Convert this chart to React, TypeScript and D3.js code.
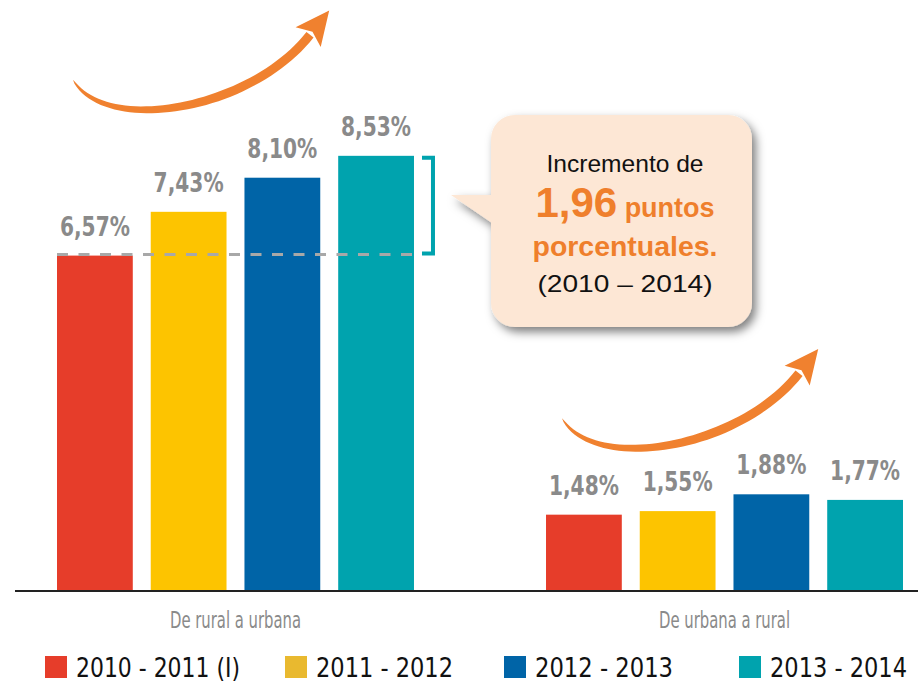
import React, { useEffect, useRef } from 'react'
import * as d3 from 'd3'

const categories = ['De rural a urbana', 'De urbana a rural']
const seriesLabels = ['2010 - 2011 (I)', '2011 - 2012', '2012 - 2013', '2013 - 2014']
const ruralUrbana = [6.57, 7.43, 8.1, 8.53]
const urbanaRural = [1.48, 1.55, 1.88, 1.77]
const barColors = ['#e63d2a', '#fdc400', '#0064a7', '#00a3ae']
const legendColors = ['#e63d2a', '#e9b92f', '#0064a7', '#00a3ae']
const legendX = [45, 285, 504, 739]
const legendWidths = [164, 137, 138, 137]

const fmt = (v: number) => v.toFixed(2).replace('.', ',') + '%'

// tapered curved arrow, points local to a group origin
function arrowShape(p0: number[], c1: number[], c2: number[], p3: number[], maxW: number) {
	const upper: [number, number][] = []
	const lower: [number, number][] = []
	const n = 48
	for (let i = 0; i <= n; i++) {
		const t = i / n
		const a = (1 - t) * (1 - t) * (1 - t), b = 3 * (1 - t) * (1 - t) * t, c = 3 * (1 - t) * t * t, d = t * t * t
		const x = a * p0[0] + b * c1[0] + c * c2[0] + d * p3[0]
		const y = a * p0[1] + b * c1[1] + c * c2[1] + d * p3[1]
		const dx = 3 * (1 - t) * (1 - t) * (c1[0] - p0[0]) + 6 * (1 - t) * t * (c2[0] - c1[0]) + 3 * t * t * (p3[0] - c2[0])
		const dy = 3 * (1 - t) * (1 - t) * (c1[1] - p0[1]) + 6 * (1 - t) * t * (c2[1] - c1[1]) + 3 * t * t * (p3[1] - c2[1])
		const len = Math.hypot(dx, dy) || 1
		const nx = -dy / len, ny = dx / len
		const w = (maxW * Math.min(1, Math.sqrt(t) * 1.25)) / 2
		upper.push([x + nx * w, y + ny * w])
		lower.push([x - nx * w, y - ny * w])
	}
	const shaft = d3.line()(upper.concat(lower.reverse())) + 'Z'
	const ex = p3[0] - c2[0], ey = p3[1] - c2[1]
	const el = Math.hypot(ex, ey)
	const ux = ex / el, uy = ey / el
	const px = -uy, py = ux
	const tip = [p3[0] + ux * 31, p3[1] + uy * 31]
	const b1 = [p3[0] + px * 16 - ux * 3, p3[1] + py * 16 - uy * 3]
	const b2 = [p3[0] - px * 16 - ux * 3, p3[1] - py * 16 - uy * 3]
	const head = `M${tip[0]},${tip[1]}L${b1[0]},${b1[1]}L${p3[0] + ux * 4},${p3[1] + uy * 4}L${b2[0]},${b2[1]}Z`
	return shaft + head
}

const App = () => {
	const ref = useRef<SVGSVGElement>(null)
	const width = 918
	const height = 682

	useEffect(() => {
		document.body.style.margin = '0'
		const svg = d3.select(ref.current)
		svg.selectAll('*').remove()

		const defs = svg.append('defs')
		const filter = defs.append('filter').attr('id', 'shadow').attr('x', '-20%').attr('y', '-20%').attr('width', '150%').attr('height', '150%')
		filter.append('feDropShadow').attr('dx', 4).attr('dy', 5).attr('stdDeviation', 5).attr('flood-color', '#000').attr('flood-opacity', 0.5)

		const y = d3.scaleLinear().domain([0, 10]).range([590, 81])
		const x0 = d3.scaleBand().domain(categories).range([57, 903]).paddingInner(0.27)
		const x1 = d3.scaleBand().domain(seriesLabels).range([0, x0.bandwidth()]).paddingInner(0.1915)

		const groups = [ruralUrbana, urbanaRural]

		// arrows
		groups.forEach((vals, gi) => {
			const gx = x0(categories[gi])!
			const gy = y(d3.max(vals)!)
			svg.append('path')
				.attr('transform', `translate(${gx},${gy})`)
				.attr('d', arrowShape([16, -76], [48, -21], [193, -45], [253, -121], 9))
				.attr('fill', '#f0812f')
		})

		// bars
		groups.forEach((vals, gi) => {
			const g = svg.append('g').attr('transform', `translate(${x0(categories[gi])},0)`)
			g.selectAll('rect').data(vals).enter().append('rect')
				.attr('x', (d, i) => x1(seriesLabels[i])!)
				.attr('y', d => y(d))
				.attr('width', x1.bandwidth())
				.attr('height', d => y(0) - y(d))
				.attr('fill', (d, i) => barColors[i])
			g.selectAll('text').data(vals).enter().append('text')
				.attr('x', (d, i) => x1(seriesLabels[i])! + x1.bandwidth() / 2)
				.attr('y', d => y(d) - 20)
				.attr('text-anchor', 'middle')
				.attr('font-family', 'DejaVu Sans Condensed, DejaVu Sans')
				.attr('font-weight', 'bold')
				.attr('font-size', 27)
				.attr('fill', '#8a8a8a')
				.attr('textLength', 70)
				.attr('lengthAdjust', 'spacingAndGlyphs')
				.text(d => fmt(d))
		})

		// dashed reference line and bracket
		const gx1 = x0(categories[0])!
		svg.append('line')
			.attr('x1', gx1).attr('x2', gx1 + x0.bandwidth())
			.attr('y1', y(ruralUrbana[0]) - 1).attr('y2', y(ruralUrbana[0]) - 1)
			.attr('stroke', '#a8a8a8').attr('stroke-width', 3).attr('stroke-dasharray', '11,10.5')
		const bx = gx1 + x0.bandwidth() + 8
		const top = y(d3.max(ruralUrbana)!)
		const bot = y(ruralUrbana[0])
		svg.append('path')
			.attr('d', `M${bx},${top + 2}H${bx + 11}V${bot - 2}H${bx}`)
			.attr('fill', 'none').attr('stroke', '#00a3ae').attr('stroke-width', 4)

		// axis line
		svg.append('line').attr('x1', 15).attr('x2', width).attr('y1', y(0) + 1).attr('y2', y(0) + 1)
			.attr('stroke', '#222').attr('stroke-width', 2)

		// category labels
		svg.selectAll('.cat').data(categories).enter().append('text')
			.attr('class', 'cat')
			.attr('x', d => x0(d)! + x0.bandwidth() / 2)
			.attr('y', 628)
			.attr('text-anchor', 'middle')
			.attr('font-family', 'Liberation Sans Narrow, DejaVu Sans Condensed, sans-serif')
			.attr('font-size', 23)
			.attr('fill', '#8a8a8a')
			.attr('textLength', 131)
			.attr('lengthAdjust', 'spacingAndGlyphs')
			.text(d => d)

		// callout
		const call = svg.append('g').attr('filter', 'url(#shadow)')
		call.append('rect').attr('x', 491).attr('y', 115).attr('width', 261).attr('height', 212).attr('rx', 24)
			.attr('fill', '#fde7d5')
		call.append('path').attr('d', 'M451,195L495,195L495,225Z').attr('fill', '#fde7d5')
		const cx = 625
		const increment = d3.max(ruralUrbana)! - ruralUrbana[0]
		svg.append('text').attr('x', cx).attr('y', 172).attr('text-anchor', 'middle')
			.attr('font-family', 'Liberation Sans, sans-serif').attr('font-size', 24).attr('fill', '#111')
			.attr('textLength', 157).attr('lengthAdjust', 'spacingAndGlyphs')
			.text('Incremento de')
		const t2 = svg.append('text').attr('x', cx).attr('y', 217).attr('text-anchor', 'middle')
			.attr('font-family', 'Liberation Sans, sans-serif').attr('font-weight', 'bold').attr('fill', '#ef7f2c')
		t2.append('tspan').attr('font-size', 42).text(increment.toFixed(2).replace('.', ','))
		t2.append('tspan').attr('font-size', 27).text(' puntos')
		svg.append('text').attr('x', cx).attr('y', 256).attr('text-anchor', 'middle')
			.attr('font-family', 'Liberation Sans, sans-serif').attr('font-weight', 'bold').attr('font-size', 27)
			.attr('fill', '#ef7f2c').attr('textLength', 185).attr('lengthAdjust', 'spacingAndGlyphs')
			.text('porcentuales.')
		svg.append('text').attr('x', cx).attr('y', 292).attr('text-anchor', 'middle')
			.attr('font-family', 'Liberation Sans, sans-serif').attr('font-size', 24).attr('fill', '#111')
			.attr('textLength', 175).attr('lengthAdjust', 'spacingAndGlyphs')
			.text('(2010 – 2014)')

		// legend
		const leg = svg.selectAll('.leg').data(seriesLabels).enter().append('g').attr('class', 'leg')
			.attr('transform', (d, i) => `translate(${legendX[i]},656)`)
		leg.append('rect').attr('width', 22).attr('height', 22).attr('fill', (d, i) => legendColors[i])
		leg.append('text').attr('x', 31).attr('y', 21)
			.attr('font-family', 'Liberation Sans Narrow, DejaVu Sans Condensed, sans-serif')
			.attr('font-size', 26).attr('fill', '#111')
			.attr('textLength', (d, i) => legendWidths[i])
			.attr('lengthAdjust', 'spacingAndGlyphs')
			.text(d => d)
	}, [])

	return <svg ref={ref} width={width} height={height} style={{ display: 'block' }}></svg>
}

export default App
